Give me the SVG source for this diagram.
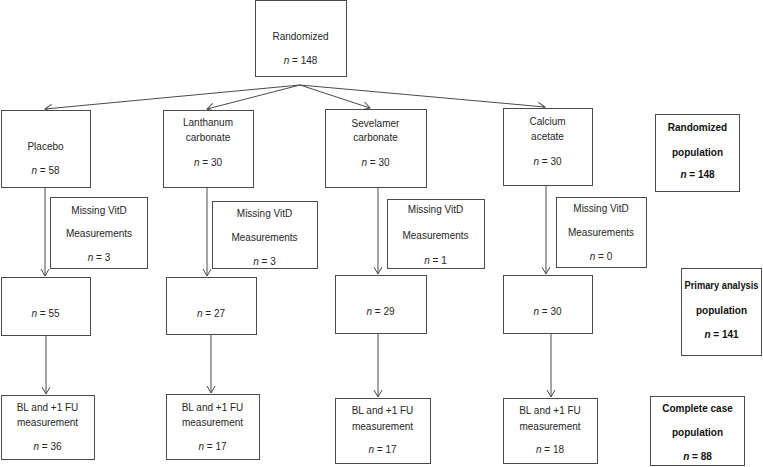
<svg xmlns="http://www.w3.org/2000/svg" width="763" height="467" viewBox="0 0 763 467">
<style>
rect{fill:#fff;stroke:#4a4a4a;stroke-width:1}
text{font-family:"Liberation Sans",Arial,sans-serif;font-size:10px;fill:#262626;text-anchor:middle}
.b{font-weight:bold;fill:#111}
.i{font-style:italic}
.c line{stroke:#4a4a4a;stroke-width:1;fill:none}
</style>
<defs>
<marker id="ah" markerUnits="userSpaceOnUse" markerWidth="10" markerHeight="10" refX="7" refY="4" orient="auto" viewBox="0 0 10 8">
<path d="M0,0 L7,4 L0,8" fill="none" stroke="#4a4a4a" stroke-width="1"/>
</marker>
</defs>
<g class="c" id="connectors">
<line x1="300" y1="85" x2="45" y2="109" marker-end="url(#ah)"/>
<line x1="300" y1="85" x2="207" y2="109" marker-end="url(#ah)"/>
<line x1="300" y1="85" x2="370" y2="108" marker-end="url(#ah)"/>
<line x1="300" y1="85" x2="545" y2="107" marker-end="url(#ah)"/>
<line x1="45" y1="187" x2="45" y2="276" marker-end="url(#ah)"/>
<line x1="46" y1="335" x2="46" y2="394" marker-end="url(#ah)"/>
<line x1="207" y1="187" x2="207" y2="276" marker-end="url(#ah)"/>
<line x1="211" y1="334" x2="211" y2="393" marker-end="url(#ah)"/>
<line x1="378" y1="187" x2="378" y2="274" marker-end="url(#ah)"/>
<line x1="378" y1="333" x2="378" y2="397" marker-end="url(#ah)"/>
<line x1="546" y1="185" x2="546" y2="274" marker-end="url(#ah)"/>
<line x1="551" y1="333" x2="551" y2="397" marker-end="url(#ah)"/>
</g>
<g id="randomized"><rect x="255.5" y="0.5" width="91" height="76"/><text x="300.5" y="40">Randomized</text><text x="300.5" y="64"><tspan class="i">n</tspan> = 148</text></g>
<g id="placebo"><rect x="1.5" y="110.5" width="89" height="77"/><text x="45.5" y="150">Placebo</text><text x="45.5" y="174"><tspan class="i">n</tspan> = 58</text></g>
<g id="lanthanum"><rect x="163.5" y="110.5" width="90" height="77"/><text x="208" y="125.5">Lanthanum</text><text x="208" y="140.5">carbonate</text><text x="208" y="165.5"><tspan class="i">n</tspan> = 30</text></g>
<g id="sevelamer"><rect x="325.5" y="109.5" width="101" height="78"/><text x="375.5" y="126.5">Sevelamer</text><text x="375.5" y="140.5">carbonate</text><text x="375.5" y="165.5"><tspan class="i">n</tspan> = 30</text></g>
<g id="calcium"><rect x="503.5" y="108.5" width="89" height="77"/><text x="547.5" y="124.5">Calcium</text><text x="547.5" y="139.5">acetate</text><text x="547.5" y="164.5"><tspan class="i">n</tspan> = 30</text></g>
<g id="missing1"><rect x="50.5" y="197.5" width="97" height="71"/><text x="99" y="213.5">Missing VitD</text><text x="99" y="236.5">Measurements</text><text x="99" y="260.5"><tspan class="i">n</tspan> = 3</text></g>
<g id="missing2"><rect x="212.5" y="201.5" width="105" height="67"/><text x="264.5" y="216.5">Missing VitD</text><text x="264.5" y="240.5">Measurements</text><text x="264.5" y="265"><tspan class="i">n</tspan> = 3</text></g>
<g id="missing3"><rect x="387.5" y="199.5" width="97" height="69"/><text x="435.5" y="212.5">Missing VitD</text><text x="435.5" y="238.5">Measurements</text><text x="435.5" y="263.5"><tspan class="i">n</tspan> = 1</text></g>
<g id="missing4"><rect x="556.5" y="197.5" width="90" height="70"/><text x="601" y="211.5">Missing VitD</text><text x="601" y="235.5">Measurements</text><text x="601" y="259.5"><tspan class="i">n</tspan> = 0</text></g>
<g id="mid1"><rect x="1.5" y="277.5" width="89" height="58"/><text x="45.5" y="316.5"><tspan class="i">n</tspan> = 55</text></g>
<g id="mid2"><rect x="166.5" y="277.5" width="90" height="57"/><text x="211" y="316.5"><tspan class="i">n</tspan> = 27</text></g>
<g id="mid3"><rect x="335.5" y="275.5" width="91" height="58"/><text x="380.5" y="314.5"><tspan class="i">n</tspan> = 29</text></g>
<g id="mid4"><rect x="503.5" y="275.5" width="89" height="58"/><text x="547.5" y="314.5"><tspan class="i">n</tspan> = 30</text></g>
<g id="bottom1"><rect x="1.5" y="395.5" width="93" height="64"/><text x="47.5" y="410.5">BL and +1 FU</text><text x="47.5" y="425.5">measurement</text><text x="47.5" y="449.5"><tspan class="i">n</tspan> = 36</text></g>
<g id="bottom2"><rect x="166.5" y="394.5" width="93" height="65"/><text x="212.5" y="410.5">BL and +1 FU</text><text x="212.5" y="425.5">measurement</text><text x="212.5" y="449.5"><tspan class="i">n</tspan> = 17</text></g>
<g id="bottom3"><rect x="335.5" y="398.5" width="95" height="65"/><text x="382.5" y="413.5">BL and +1 FU</text><text x="382.5" y="429.5">measurement</text><text x="382.5" y="452.5"><tspan class="i">n</tspan> = 17</text></g>
<g id="bottom4"><rect x="503.5" y="398.5" width="94" height="65"/><text x="550" y="413.5">BL and +1 FU</text><text x="550" y="429.5">measurement</text><text x="550" y="452.5"><tspan class="i">n</tspan> = 18</text></g>
<g id="randpop"><rect x="655.5" y="114.5" width="84" height="77"/><text class="b" x="697.5" y="130.5">Randomized</text><text class="b" x="697.5" y="155.5">population</text><text class="b" x="697.5" y="178"><tspan class="i">n</tspan> = 148</text></g>
<g id="primpop"><rect x="681.5" y="268.5" width="80" height="87"/><text class="b" x="721.5" y="288.5" textLength="74" lengthAdjust="spacingAndGlyphs">Primary analysis</text><text class="b" x="721.5" y="313.5">population</text><text class="b" x="721.5" y="337.5"><tspan class="i">n</tspan> = 141</text></g>
<g id="comppop"><rect x="650.5" y="396.5" width="94" height="69"/><text class="b" x="697.5" y="411.5">Complete case</text><text class="b" x="697.5" y="435.5">population</text><text class="b" x="697.5" y="459.5"><tspan class="i">n</tspan> = 88</text></g>
</svg>
